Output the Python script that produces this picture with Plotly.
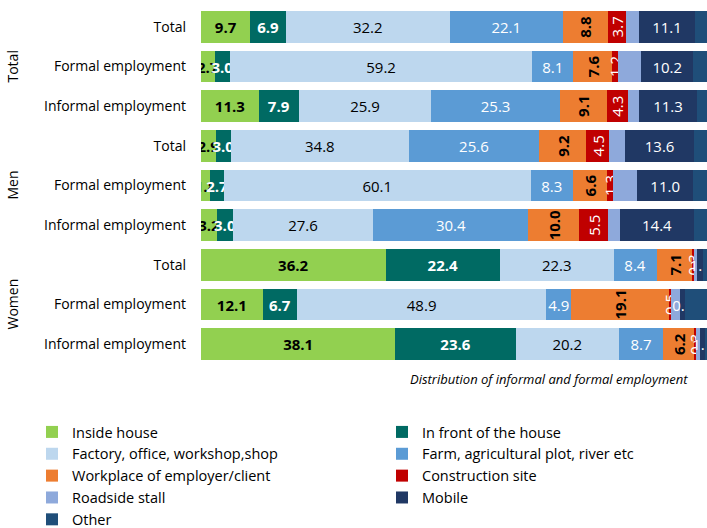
import plotly.graph_objects as go

row_keys = ["T-T", "T-F", "T-I", "M-T", "M-F", "M-I", "W-T", "W-F", "W-I"]
row_labels = ["Total", "Formal employment", "Informal employment",
              "Total", "Formal employment", "Informal employment",
              "Total", "Formal employment", "Informal employment"]
groups = ["Total", "Men", "Women"]

series_names = ["Inside house", "In front of the house", "Factory, office, workshop,shop",
                "Farm, agricultural plot, river etc", "Workplace of employer/client",
                "Construction site", "Roadside stall", "Mobile", "Other"]

inside_house = [9.7, 2.7, 11.3, 2.9, 1.8, 3.2, 36.2, 12.1, 38.1]
in_front = [6.9, 3.0, 7.9, 3.0, 2.7, 3.0, 22.4, 6.7, 23.6]
factory = [32.2, 59.2, 25.9, 34.8, 60.1, 27.6, 22.3, 48.9, 20.2]
farm = [22.1, 8.1, 25.3, 25.6, 8.3, 30.4, 8.4, 4.9, 8.7]
workplace = [8.8, 7.6, 9.1, 9.2, 6.6, 10.0, 7.1, 19.1, 6.2]
construction = [3.7, 1.2, 4.3, 4.5, 1.3, 5.5, 0.3, 0.5, 0.3]
roadside = [2.4, 4.5, 2.1, 3.1, 4.7, 2.5, 0.6, 1.8, 0.7]
mobile = [11.1, 10.2, 11.3, 13.6, 11.0, 14.4, 1.1, 0.9, 1.1]
other = [3.1, 3.5, 2.8, 3.3, 3.5, 3.4, 1.6, 5.1, 1.1]

values = [inside_house, in_front, factory, farm, workplace, construction, roadside, mobile, other]
colors = ["#92D050", "#006A63", "#BDD7EE", "#5B9BD5", "#ED7D31", "#C00000",
          "#8EA9DB", "#203864", "#1F4E79"]
# label style: (show, color, bold, angle)
styles = [(True, "black", True, 0), (True, "white", True, 0), (True, "black", False, 0),
          (True, "white", False, 0), (True, "black", True, -90), (True, "white", False, -90),
          (False, "white", False, 0), (True, "white", False, 0), (False, "white", False, 0)]

FONT = "Open Sans"
fig = go.Figure()
for name, vals, col, st in zip(series_names, values, colors, styles):
    show, tcol, bold, ang = st
    fig.add_trace(go.Bar(
        y=row_keys, x=vals, name=name, orientation="h",
        marker=dict(color=col, line=dict(width=0)),
        text=[f"{v:.1f}" for v in vals] if show else None,
        textposition="inside" if show else "none",
        insidetextanchor="middle",
        textangle=ang,
        constraintext="none",
        textfont=dict(family=FONT, size=15, color=tcol, weight="bold" if bold else "normal"),
        hoverinfo="x+name",
    ))

fig.update_layout(
    width=707, height=528,
    barmode="stack", bargap=0.2,
    plot_bgcolor="white", paper_bgcolor="white",
    margin=dict(l=201, r=0, t=7, b=164, autoexpand=False),
    font=dict(family=FONT, size=14, color="black"),
    xaxis=dict(range=[0, 99.2], showticklabels=False, showgrid=False, zeroline=False,
               showline=False, fixedrange=True),
    yaxis=dict(autorange="reversed", tickmode="array", tickvals=row_keys, ticktext=row_labels,
               showgrid=False, showline=False, ticks="", ticklabelstandoff=14, automargin=False,
               tickfont=dict(family=FONT, size=14, color="black")),
    legend=dict(orientation="h", x=(32 - 201) / 506, xanchor="left",
                y=(364 - 416) / 357, yanchor="top",
                entrywidth=305, entrywidthmode="pixels", itemwidth=30,
                font=dict(family=FONT, size=14.5, color="black"), traceorder="normal",
                bgcolor="rgba(0,0,0,0)"),
    showlegend=True,
)

group_centers = ["T-F", "M-F", "W-F"]
for g, yc in zip(groups, group_centers):
    fig.add_annotation(text=g, xref="paper", yref="y", x=-0.3735, y=yc, textangle=-90,
                       showarrow=False, font=dict(family=FONT, size=14, color="black"),
                       xanchor="center", yanchor="middle")

fig.add_annotation(text="<i>Distribution of informal and formal employment</i>",
                   xref="paper", yref="paper", x=(690 - 201) / 506, y=-(379 - 364) / 357,
                   xanchor="right", yanchor="middle", showarrow=False,
                   font=dict(family=FONT, size=13, color="black"))

fig.write_html("out.html", config={"displayModeBar": False},
               post_script="document.body.style.margin='0';document.body.style.overflow='hidden';")
